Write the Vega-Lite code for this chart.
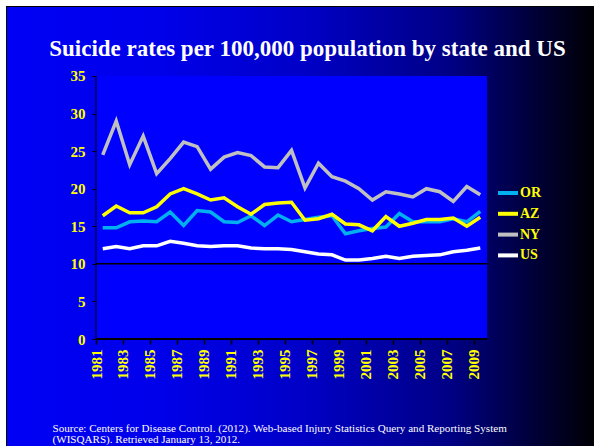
{
  "$schema": "https://vega.github.io/schema/vega-lite/v6.json",
  "width": 587,
  "height": 439,
  "autosize": {"type": "none"},
  "padding": {"left": 7, "top": 7, "right": 0, "bottom": 0},
  "background": "white",
  "config": {
    "view": {"stroke": "black", "strokeWidth": 2}
  },
  "title": {
    "text": "Suicide rates per 100,000 population by state and US",
    "color": "white",
    "font": "Liberation Serif",
    "fontSize": 23,
    "fontWeight": "bold",
    "anchor": "middle",
    "frame": "group",
    "baseline": "alphabetic",
    "offset": -72,
    "dx": 7
  },
  "datasets": {
    "rates": [
      {"year": 1981, "state": "OR", "rate": 14.8}, {"year": 1982, "state": "OR", "rate": 14.8}, {"year": 1983, "state": "OR", "rate": 15.6}, {"year": 1984, "state": "OR", "rate": 15.7}, {"year": 1985, "state": "OR", "rate": 15.6}, {"year": 1986, "state": "OR", "rate": 16.9}, {"year": 1987, "state": "OR", "rate": 15.1}, {"year": 1988, "state": "OR", "rate": 17.1}, {"year": 1989, "state": "OR", "rate": 16.9}, {"year": 1990, "state": "OR", "rate": 15.6}, {"year": 1991, "state": "OR", "rate": 15.5}, {"year": 1992, "state": "OR", "rate": 16.4}, {"year": 1993, "state": "OR", "rate": 15.1}, {"year": 1994, "state": "OR", "rate": 16.5}, {"year": 1995, "state": "OR", "rate": 15.6}, {"year": 1996, "state": "OR", "rate": 15.9}, {"year": 1997, "state": "OR", "rate": 16.2}, {"year": 1998, "state": "OR", "rate": 16.4}, {"year": 1999, "state": "OR", "rate": 14.0}, {"year": 2000, "state": "OR", "rate": 14.4}, {"year": 2001, "state": "OR", "rate": 14.7}, {"year": 2002, "state": "OR", "rate": 14.9}, {"year": 2003, "state": "OR", "rate": 16.7}, {"year": 2004, "state": "OR", "rate": 15.6}, {"year": 2005, "state": "OR", "rate": 15.6}, {"year": 2006, "state": "OR", "rate": 15.6}, {"year": 2007, "state": "OR", "rate": 16.0}, {"year": 2008, "state": "OR", "rate": 15.6}, {"year": 2009, "state": "OR", "rate": 17.0},
      {"year": 1981, "state": "AZ", "rate": 16.4}, {"year": 1982, "state": "AZ", "rate": 17.7}, {"year": 1983, "state": "AZ", "rate": 16.8}, {"year": 1984, "state": "AZ", "rate": 16.8}, {"year": 1985, "state": "AZ", "rate": 17.6}, {"year": 1986, "state": "AZ", "rate": 19.3}, {"year": 1987, "state": "AZ", "rate": 20.0}, {"year": 1988, "state": "AZ", "rate": 19.3}, {"year": 1989, "state": "AZ", "rate": 18.5}, {"year": 1990, "state": "AZ", "rate": 18.8}, {"year": 1991, "state": "AZ", "rate": 17.6}, {"year": 1992, "state": "AZ", "rate": 16.6}, {"year": 1993, "state": "AZ", "rate": 17.9}, {"year": 1994, "state": "AZ", "rate": 18.1}, {"year": 1995, "state": "AZ", "rate": 18.2}, {"year": 1996, "state": "AZ", "rate": 15.8}, {"year": 1997, "state": "AZ", "rate": 16.0}, {"year": 1998, "state": "AZ", "rate": 16.6}, {"year": 1999, "state": "AZ", "rate": 15.3}, {"year": 2000, "state": "AZ", "rate": 15.2}, {"year": 2001, "state": "AZ", "rate": 14.4}, {"year": 2002, "state": "AZ", "rate": 16.3}, {"year": 2003, "state": "AZ", "rate": 15.0}, {"year": 2004, "state": "AZ", "rate": 15.4}, {"year": 2005, "state": "AZ", "rate": 15.9}, {"year": 2006, "state": "AZ", "rate": 15.9}, {"year": 2007, "state": "AZ", "rate": 16.1}, {"year": 2008, "state": "AZ", "rate": 15.0}, {"year": 2009, "state": "AZ", "rate": 16.2},
      {"year": 1981, "state": "NY", "rate": 24.5}, {"year": 1982, "state": "NY", "rate": 29.0}, {"year": 1983, "state": "NY", "rate": 23.2}, {"year": 1984, "state": "NY", "rate": 27.0}, {"year": 1985, "state": "NY", "rate": 22.0}, {"year": 1986, "state": "NY", "rate": 24.0}, {"year": 1987, "state": "NY", "rate": 26.2}, {"year": 1988, "state": "NY", "rate": 25.6}, {"year": 1989, "state": "NY", "rate": 22.6}, {"year": 1990, "state": "NY", "rate": 24.2}, {"year": 1991, "state": "NY", "rate": 24.8}, {"year": 1992, "state": "NY", "rate": 24.4}, {"year": 1993, "state": "NY", "rate": 22.9}, {"year": 1994, "state": "NY", "rate": 22.8}, {"year": 1995, "state": "NY", "rate": 25.1}, {"year": 1996, "state": "NY", "rate": 20.1}, {"year": 1997, "state": "NY", "rate": 23.4}, {"year": 1998, "state": "NY", "rate": 21.6}, {"year": 1999, "state": "NY", "rate": 21.0}, {"year": 2000, "state": "NY", "rate": 20.0}, {"year": 2001, "state": "NY", "rate": 18.5}, {"year": 2002, "state": "NY", "rate": 19.6}, {"year": 2003, "state": "NY", "rate": 19.3}, {"year": 2004, "state": "NY", "rate": 18.9}, {"year": 2005, "state": "NY", "rate": 20.0}, {"year": 2006, "state": "NY", "rate": 19.6}, {"year": 2007, "state": "NY", "rate": 18.3}, {"year": 2008, "state": "NY", "rate": 20.3}, {"year": 2009, "state": "NY", "rate": 19.2},
      {"year": 1981, "state": "US", "rate": 12.0}, {"year": 1982, "state": "US", "rate": 12.3}, {"year": 1983, "state": "US", "rate": 12.0}, {"year": 1984, "state": "US", "rate": 12.4}, {"year": 1985, "state": "US", "rate": 12.4}, {"year": 1986, "state": "US", "rate": 13.0}, {"year": 1987, "state": "US", "rate": 12.75}, {"year": 1988, "state": "US", "rate": 12.4}, {"year": 1989, "state": "US", "rate": 12.3}, {"year": 1990, "state": "US", "rate": 12.4}, {"year": 1991, "state": "US", "rate": 12.4}, {"year": 1992, "state": "US", "rate": 12.1}, {"year": 1993, "state": "US", "rate": 12.0}, {"year": 1994, "state": "US", "rate": 12.0}, {"year": 1995, "state": "US", "rate": 11.9}, {"year": 1996, "state": "US", "rate": 11.6}, {"year": 1997, "state": "US", "rate": 11.3}, {"year": 1998, "state": "US", "rate": 11.2}, {"year": 1999, "state": "US", "rate": 10.5}, {"year": 2000, "state": "US", "rate": 10.5}, {"year": 2001, "state": "US", "rate": 10.7}, {"year": 2002, "state": "US", "rate": 11.0}, {"year": 2003, "state": "US", "rate": 10.7}, {"year": 2004, "state": "US", "rate": 11.0}, {"year": 2005, "state": "US", "rate": 11.1}, {"year": 2006, "state": "US", "rate": 11.2}, {"year": 2007, "state": "US", "rate": 11.6}, {"year": 2008, "state": "US", "rate": 11.8}, {"year": 2009, "state": "US", "rate": 12.1}
    ]
  },
  "layer": [
    {
      "data": {"values": [{}]},
      "mark": {
        "type": "rect",
        "fill": {
          "gradient": "linear",
          "x1": 0, "y1": 0, "x2": 1, "y2": 0,
          "stops": [
            {"offset": 0, "color": "#0000F5"},
            {"offset": 0.25, "color": "#0000EB"},
            {"offset": 0.5, "color": "#0000C8"},
            {"offset": 0.755, "color": "#000085"},
            {"offset": 0.89, "color": "#00003C"},
            {"offset": 1, "color": "#000005"}
          ]
        }
      },
      "encoding": {}
    },
    {
      "data": {"values": [{}]},
      "mark": {"type": "rect", "fill": "#0000FF"},
      "encoding": {
        "x": {"datum": 1980.5, "type": "quantitative"},
        "x2": {"datum": 2009.5},
        "y": {"datum": 0, "type": "quantitative"},
        "y2": {"datum": 35}
      }
    },
    {
      "data": {"values": [{}]},
      "mark": {"type": "rule", "color": "black", "strokeWidth": 1.5},
      "encoding": {
        "x": {"datum": 1980.5, "type": "quantitative"},
        "x2": {"datum": 2009.5},
        "y": {"datum": 10, "type": "quantitative"}
      }
    },
    {
      "data": {"values": [{}]},
      "mark": {"type": "rule", "color": "black", "strokeWidth": 2},
      "encoding": {
        "x": {"datum": 1980.5, "type": "quantitative"},
        "x2": {"datum": 2009.5},
        "y": {"datum": 0, "type": "quantitative"}
      }
    },
    {
      "data": {"values": [{}]},
      "mark": {"type": "rule", "color": "black", "strokeWidth": 1},
      "encoding": {
        "x": {"datum": 1980.5, "type": "quantitative"},
        "y": {"datum": 0, "type": "quantitative"},
        "y2": {"datum": 35}
      }
    },
    {
      "data": {"name": "rates"},
      "mark": {"type": "line", "strokeWidth": 3.5, "clip": false},
      "encoding": {
        "x": {
          "field": "year",
          "type": "quantitative",
          "scale": {"domain": [1973.899, 2017.435], "nice": false, "zero": false},
          "axis": {
            "orient": "bottom",
            "zindex": 2,
            "offset": -107,
            "values": [1981, 1982, 1983, 1984, 1985, 1986, 1987, 1988, 1989, 1990, 1991, 1992, 1993, 1994, 1995, 1996, 1997, 1998, 1999, 2000, 2001, 2002, 2003, 2004, 2005, 2006, 2007, 2008, 2009],
            "format": "d",
            "labelExpr": "datum.value % 2 == 1 ? datum.label : ''",
            "labelAngle": -90,
            "labelAlign": "right",
            "labelBaseline": "middle",
            "labelColor": "#FFFF00",
            "labelFont": "Liberation Serif",
            "labelFontWeight": "bold",
            "labelFontSize": 15,
            "labelPadding": 5,
            "labelOverlap": false,
            "labelFlush": false,
            "labelBound": false,
            "tickColor": "black",
            "tickSize": 5,
            "tickWidth": 1.5,
            "tickOffset": -6.74,
            "domain": false,
            "grid": false,
            "title": ["Source: Centers for Disease Control. (2012). Web-based Injury Statistics Query and Reporting System", "(WISQARS). Retrieved January 13, 2012."],
            "titleColor": "white",
            "titleFont": "Liberation Serif",
            "titleFontSize": 11.1,
            "titleFontWeight": "normal",
            "titleAlign": "left",
            "titleAnchor": "start",
            "titleAngle": 0,
            "titleBaseline": "alphabetic",
            "titleLineHeight": 11,
            "titleX": 45,
            "titleY": 92
          }
        },
        "y": {
          "field": "rate",
          "type": "quantitative",
          "scale": {"domain": [-14.2395, 44.1825], "nice": false, "zero": false},
          "axis": {
            "orient": "left",
            "zindex": 2,
            "offset": -89,
            "values": [0, 5, 10, 15, 20, 25, 30, 35],
            "labelColor": "#FFFF00",
            "labelFont": "Liberation Serif",
            "labelFontWeight": "bold",
            "labelFontSize": 15,
            "labelPadding": 7,
            "labelOverlap": false,
            "labelFlush": false,
            "labelBound": false,
            "tickColor": "black",
            "tickSize": 4,
            "domain": false,
            "grid": false,
            "title": null
          }
        },
        "color": {
          "field": "state",
          "type": "nominal",
          "scale": {"domain": ["OR", "AZ", "NY", "US"], "range": ["#00B0F0", "#FFFF00", "#C0C0C0", "#FFFFFF"]},
          "legend": {
            "orient": "none",
            "legendX": 489,
            "legendY": 174,
            "title": null,
            "symbolType": "stroke",
            "symbolStrokeWidth": 4,
            "symbolSize": 400,
            "labelColor": "#FFFF00",
            "labelFont": "Liberation Serif",
            "labelFontWeight": "bold",
            "labelFontSize": 14,
            "labelOffset": 0,
            "rowPadding": 0.8,
            "padding": 0
          }
        }
      }
    }
  ]
}
